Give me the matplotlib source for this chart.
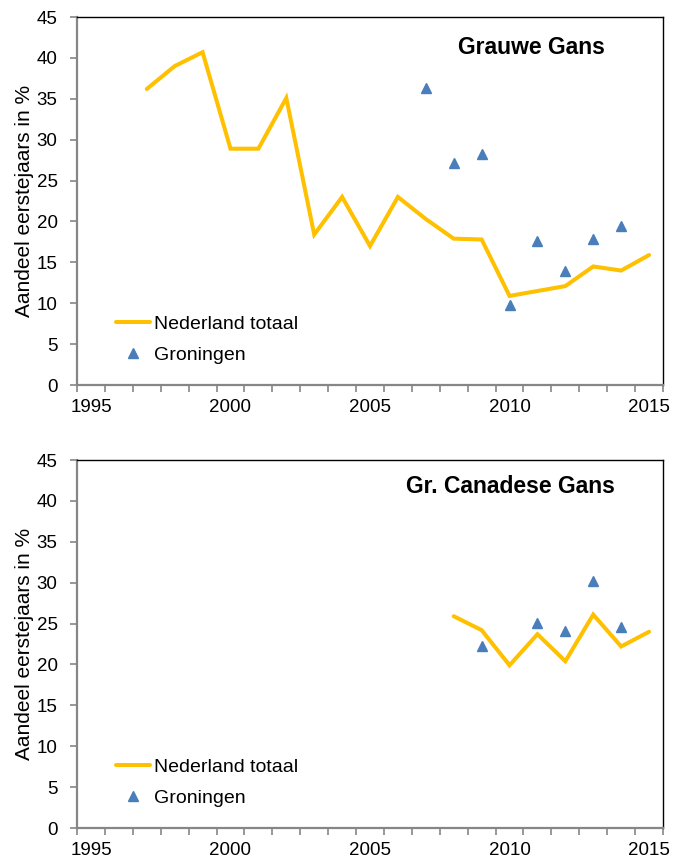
import numpy as np
import matplotlib
matplotlib.use("Agg")
import matplotlib.pyplot as plt

plt.rcParams['font.family'] = ['Liberation Sans', 'DejaVu Sans']

# Grauwe Gans
gg_years = [1997, 1998, 1999, 2000, 2001, 2002, 2003, 2004, 2005, 2006,
            2007, 2008, 2009, 2010, 2011, 2012, 2013, 2014, 2015]
gg_nl = [36.2, 39.0, 40.7, 28.9, 28.9, 35.1, 18.4, 23.0, 17.0, 23.0,
         20.3, 17.9, 17.8, 10.9, 11.5, 12.1, 14.5, 14.0, 15.9]
gg_gron_years = [2007, 2008, 2009, 2010, 2011, 2012, 2013, 2014]
gg_gron = [36.3, 27.1, 28.2, 9.8, 17.6, 14.0, 17.8, 19.4]

# Gr. Canadese Gans
cg_years = [2008, 2009, 2010, 2011, 2012, 2013, 2014, 2015]
cg_nl = [25.9, 24.2, 19.9, 23.7, 20.4, 26.1, 22.2, 24.0]
cg_gron_years = [2009, 2011, 2012, 2013, 2014]
cg_gron = [22.2, 25.1, 24.1, 30.2, 24.6]

year_labels = [1995, 2000, 2005, 2010, 2015]

GOLD = "#FFC000"
BLUE = "#4A7EBB"
GREY = "#868686"

fig = plt.figure(figsize=(6.84, 8.61), dpi=100)
ax1 = fig.add_axes([0.1126, 0.5528, 0.8567, 0.4274])
ax2 = fig.add_axes([0.1126, 0.0383, 0.8567, 0.4274])


def draw(ax, years, nl, gyears, gron, title, tx, ty):
    ax.plot(years, nl, color=GOLD, lw=2.9, solid_capstyle='round',
            solid_joinstyle='miter', label="Nederland totaal")
    ax.plot(gyears, gron, ls='none', marker='^', ms=7.5, color=BLUE,
            label="Groningen")
    ax.set_xlim(1994.5, 2015.5)
    ax.set_ylim(0, 45)
    ax.set_yticks(np.arange(0, 46, 5))
    ax.set_xticks(year_labels)
    ax.set_xticks(np.arange(1994.5, 2015.6, 1), minor=True)
    ax.tick_params(axis='x', which='major', length=0, pad=10, labelsize=13.5)
    ax.tick_params(axis='x', which='minor', length=5, width=1.2, color=GREY)
    ax.tick_params(axis='y', length=5, width=1.2, color=GREY, pad=9,
                   labelsize=13.5)
    for s in ['left', 'bottom']:
        ax.spines[s].set_color(GREY)
        ax.spines[s].set_linewidth(1.6)
    for s in ['top', 'right']:
        ax.spines[s].set_color('black')
        ax.spines[s].set_linewidth(1.0)
    ax.set_ylabel("Aandeel eerstejaars in %", fontsize=15, labelpad=2)
    ax.text(tx, ty, title, transform=ax.transAxes, ha='center', va='center',
            fontsize=16.5, fontweight='bold')
    ax.legend(loc='lower left', bbox_to_anchor=(0.066, 0.057), frameon=False,
              fontsize=14, handlelength=1.75, handletextpad=0.2,
              labelspacing=0.7, borderpad=0, borderaxespad=0)


draw(ax1, gg_years, gg_nl, gg_gron_years, gg_gron, "Grauwe Gans", 0.776, 0.916)
draw(ax2, cg_years, cg_nl, cg_gron_years, cg_gron, "Gr. Canadese Gans", 0.740, 0.927)

fig.savefig("out.png", dpi=100)
